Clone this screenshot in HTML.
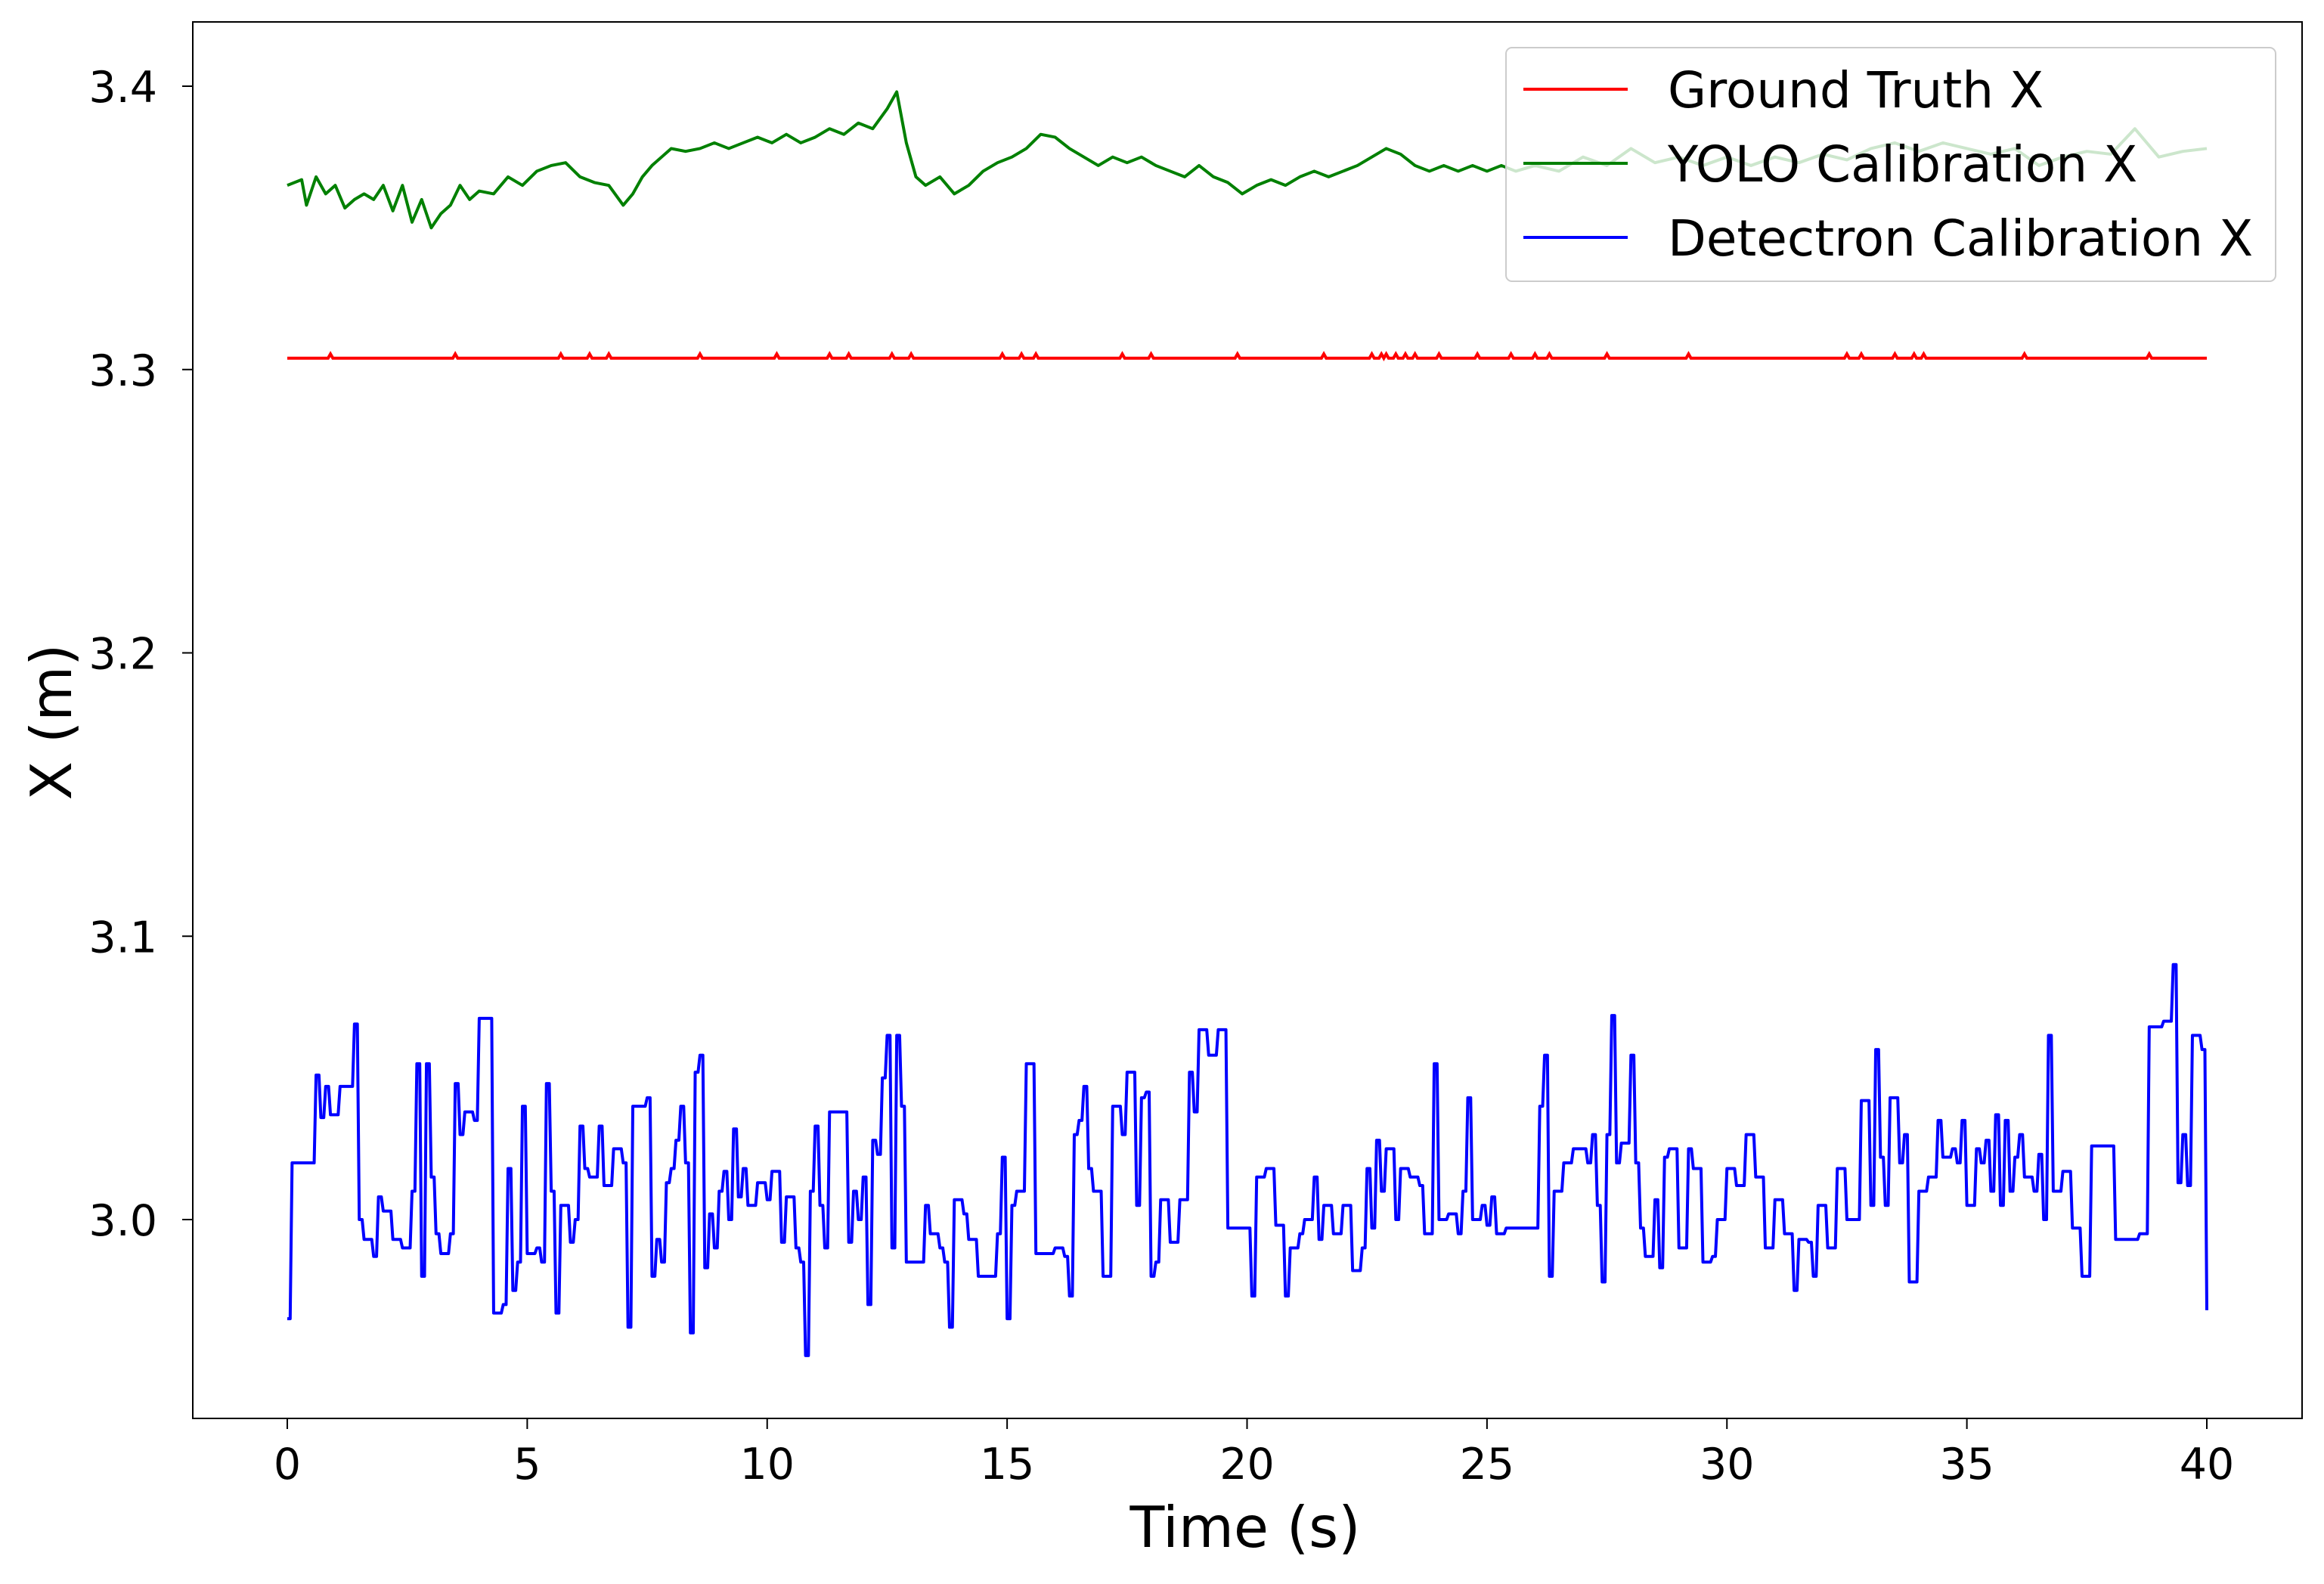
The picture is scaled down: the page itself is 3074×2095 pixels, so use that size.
<!DOCTYPE html>
<html><head><meta charset="utf-8"><style>
html,body{margin:0;padding:0;background:#fff;}
svg text{font-family:"DejaVu Sans","Liberation Sans",sans-serif;fill:#000;}
</style></head><body>
<svg id="chart" width="3074" height="2090" viewBox="0 0 3074 2090" xmlns="http://www.w3.org/2000/svg">
<rect width="3074" height="2090" fill="#fff"/>
<g id="plot"></g>
</svg>
<script>
const xTicks=[0,5,10,15,20,25,30,35,40];
const yTicks=[3.0,3.1,3.2,3.3,3.4];
const gtValue=3.304;
const gtSpikeTimes=[0.9,3.5,5.7,6.3,6.7,8.6,10.2,11.3,11.7,12.6,13.0,14.9,15.3,15.6,17.4,18.0,19.8,21.6,22.6,22.8,22.9,23.1,23.3,23.5,24.0,24.8,25.5,26.0,26.3,27.5,29.2,32.5,32.8,33.5,33.9,34.1,36.2,38.8];
const yoloT=[0,0.3,0.4,0.6,0.8,1.0,1.2,1.4,1.6,1.8,2.0,2.2,2.4,2.6,2.8,3.0,3.2,3.4,3.6,3.8,4.0,4.3,4.6,4.9,5.2,5.5,5.8,6.1,6.4,6.7,7.0,7.2,7.4,7.6,7.8,8.0,8.3,8.6,8.9,9.2,9.5,9.8,10.1,10.4,10.7,11.0,11.3,11.6,11.9,12.2,12.5,12.7,12.9,13.1,13.3,13.6,13.9,14.2,14.5,14.8,15.1,15.4,15.7,16.0,16.3,16.6,16.9,17.2,17.5,17.8,18.1,18.4,18.7,19.0,19.3,19.6,19.9,20.2,20.5,20.8,21.1,21.4,21.7,22.0,22.3,22.6,22.9,23.2,23.5,23.8,24.1,24.4,24.7,25.0,25.3,25.6,26.0,26.5,27.0,27.5,28.0,28.5,29.0,29.5,30.0,30.5,31.0,31.5,32.0,32.5,33.0,33.5,34.0,34.5,35.0,35.5,36.0,36.5,37.0,37.5,38.0,38.5,39.0,39.5,40.0];
const yoloV=[3.365,3.367,3.358,3.368,3.362,3.365,3.357,3.360,3.362,3.360,3.365,3.356,3.365,3.352,3.360,3.350,3.355,3.358,3.365,3.360,3.363,3.362,3.368,3.365,3.370,3.372,3.373,3.368,3.366,3.365,3.358,3.362,3.368,3.372,3.375,3.378,3.377,3.378,3.380,3.378,3.380,3.382,3.380,3.383,3.380,3.382,3.385,3.383,3.387,3.385,3.392,3.398,3.380,3.368,3.365,3.368,3.362,3.365,3.370,3.373,3.375,3.378,3.383,3.382,3.378,3.375,3.372,3.375,3.373,3.375,3.372,3.370,3.368,3.372,3.368,3.366,3.362,3.365,3.367,3.365,3.368,3.370,3.368,3.370,3.372,3.375,3.378,3.376,3.372,3.370,3.372,3.370,3.372,3.370,3.372,3.370,3.372,3.370,3.375,3.372,3.378,3.373,3.375,3.372,3.375,3.372,3.375,3.373,3.376,3.374,3.378,3.380,3.377,3.380,3.378,3.376,3.378,3.372,3.375,3.377,3.376,3.385,3.375,3.377,3.378];
const detT=[0,0.1,0.5,0.6,0.7,0.8,0.9,1.1,1.4,1.5,1.6,1.8,1.9,2.0,2.2,2.4,2.6,2.7,2.8,2.9,3.0,3.1,3.2,3.4,3.5,3.6,3.7,3.9,4.0,4.3,4.5,4.6,4.7,4.8,4.9,5.0,5.2,5.3,5.4,5.5,5.6,5.7,5.9,6.0,6.1,6.2,6.3,6.5,6.6,6.8,7.0,7.1,7.2,7.5,7.6,7.7,7.8,7.9,8.0,8.1,8.2,8.3,8.4,8.5,8.6,8.7,8.8,8.9,9.0,9.1,9.2,9.3,9.4,9.5,9.6,9.8,10.0,10.1,10.3,10.4,10.6,10.7,10.8,10.9,11.0,11.1,11.2,11.3,11.5,11.7,11.8,11.9,12.0,12.1,12.2,12.3,12.4,12.5,12.6,12.7,12.8,12.9,13.1,13.3,13.4,13.6,13.7,13.8,13.9,14.1,14.2,14.4,14.6,14.8,14.9,15.0,15.1,15.2,15.4,15.6,15.8,16.0,16.2,16.3,16.4,16.5,16.6,16.7,16.8,17.0,17.2,17.4,17.5,17.7,17.8,17.9,18.0,18.1,18.2,18.4,18.6,18.8,18.9,19.0,19.2,19.4,19.6,20.0,20.1,20.2,20.4,20.6,20.8,20.9,21.1,21.2,21.4,21.5,21.6,21.8,22.0,22.2,22.4,22.5,22.6,22.7,22.8,22.9,23.1,23.2,23.4,23.6,23.7,23.9,24.0,24.2,24.4,24.5,24.6,24.7,24.9,25.0,25.1,25.2,25.4,26.0,26.1,26.2,26.3,26.4,26.6,26.8,27.0,27.1,27.2,27.3,27.4,27.5,27.6,27.7,27.8,28.0,28.1,28.2,28.3,28.5,28.6,28.7,28.8,29.0,29.2,29.3,29.5,29.7,29.8,30.0,30.2,30.4,30.6,30.8,31.0,31.2,31.4,31.5,31.7,31.8,31.9,32.1,32.3,32.5,32.8,33.0,33.1,33.2,33.3,33.4,33.6,33.7,33.8,34.0,34.2,34.4,34.5,34.7,34.8,34.9,35.0,35.2,35.3,35.4,35.5,35.6,35.7,35.8,35.9,36.0,36.1,36.2,36.4,36.5,36.6,36.7,36.8,37.0,37.2,37.4,37.6,38.0,38.1,38.6,38.8,39.1,39.3,39.4,39.5,39.6,39.7,39.9,40.0];
const detV=[2.965,3.020,3.020,3.051,3.036,3.047,3.037,3.047,3.069,3.000,2.993,2.987,3.008,3.003,2.993,2.990,3.010,3.055,2.980,3.055,3.015,2.995,2.988,2.995,3.048,3.030,3.038,3.035,3.071,2.967,2.970,3.018,2.975,2.985,3.040,2.988,2.990,2.985,3.048,3.010,2.967,3.005,2.992,3.000,3.033,3.018,3.015,3.033,3.012,3.025,3.020,2.962,3.040,3.043,2.980,2.993,2.985,3.013,3.018,3.028,3.040,3.020,2.960,3.052,3.058,2.983,3.002,2.990,3.010,3.017,3.000,3.032,3.008,3.018,3.005,3.013,3.007,3.017,2.992,3.008,2.990,2.985,2.952,3.010,3.033,3.005,2.990,3.038,3.038,2.992,3.010,3.000,3.015,2.970,3.028,3.023,3.050,3.065,2.990,3.065,3.040,2.985,2.985,3.005,2.995,2.990,2.985,2.962,3.007,3.002,2.993,2.980,2.980,2.995,3.022,2.965,3.005,3.010,3.055,2.988,2.988,2.990,2.987,2.973,3.030,3.035,3.047,3.018,3.010,2.980,3.040,3.030,3.052,3.005,3.043,3.045,2.980,2.985,3.007,2.992,3.007,3.052,3.038,3.067,3.058,3.067,2.997,2.997,2.973,3.015,3.018,2.998,2.973,2.990,2.995,3.000,3.015,2.993,3.005,2.995,3.005,2.982,2.990,3.018,2.997,3.028,3.010,3.025,3.000,3.018,3.015,3.012,2.995,3.055,3.000,3.002,2.995,3.010,3.043,3.000,3.005,2.998,3.008,2.995,2.997,2.997,3.040,3.058,2.980,3.010,3.020,3.025,3.025,3.020,3.030,3.005,2.978,3.030,3.072,3.020,3.027,3.058,3.020,2.997,2.987,3.007,2.983,3.022,3.025,2.990,3.025,3.018,2.985,2.987,3.000,3.018,3.012,3.030,3.015,2.990,3.007,2.995,2.975,2.993,2.992,2.980,3.005,2.990,3.018,3.000,3.042,3.005,3.060,3.022,3.005,3.043,3.020,3.030,2.978,3.010,3.015,3.035,3.022,3.025,3.020,3.035,3.005,3.025,3.020,3.028,3.010,3.037,3.005,3.035,3.010,3.022,3.030,3.015,3.010,3.023,3.000,3.065,3.010,3.017,2.997,2.980,3.026,3.026,2.993,2.995,3.068,3.070,3.090,3.013,3.030,3.012,3.065,3.060,2.968];

const NS='http://www.w3.org/2000/svg';
const g=document.getElementById('plot');
const X=t=>380+t*(2919-380)/40;
const Y=v=>1613-(v-3.0)*(1613-114)/0.4;
function mk(tag,attrs,parent){const e=document.createElementNS(NS,tag);for(const k in attrs)e.setAttribute(k,attrs[k]);(parent||g).appendChild(e);return e;}

let gd='M'+X(0)+' '+Y(gtValue);
gtSpikeTimes.forEach(t=>{gd+=' L'+X(t-0.05)+' '+Y(gtValue)+' L'+X(t)+' '+Y(gtValue+0.0015)+' L'+X(t+0.05)+' '+Y(gtValue);});
gd+=' L'+X(40)+' '+Y(gtValue);
const gt=mk('path',{d:gd,fill:'none',stroke:'#ff0000','stroke-width':4});



const yl=mk('path',{d:yoloT.map((t,i)=>(i?'L':'M')+X(t)+' '+Y(yoloV[i])).join(' '),fill:'none',stroke:'#008000','stroke-width':4,'stroke-linejoin':'round'});



let dd='M'+X(detT[0])+' '+Y(detV[0]);
for(let i=1;i<detT.length;i++){
  const xPrev=X(detT[i]-0.04);
  dd+=' L'+xPrev+' '+Y(detV[i-1])+' L'+X(detT[i])+' '+Y(detV[i]);
}
const dl=mk('path',{d:dd,fill:'none',stroke:'#0000ff','stroke-width':4,'stroke-linejoin':'round'});



const fr=mk('rect',{x:255,y:29,width:2790,height:1847,fill:'none',stroke:'#000','stroke-width':2});



xTicks.forEach(t=>{
  const tk=mk('line',{x1:X(t),x2:X(t),y1:1876,y2:1890,stroke:'#000','stroke-width':2});
  
  
  const tx=mk('text',{x:X(t),y:1956,'font-size':57,'text-anchor':'middle'});tx.textContent=t;
  
  
});
yTicks.forEach(v=>{
  const tk=mk('line',{x1:241,x2:255,y1:Y(v),y2:Y(v),stroke:'#000','stroke-width':2});
  
  
  const tx=mk('text',{x:208,y:Y(v)+21,'font-size':57,'text-anchor':'end'});tx.textContent=v.toFixed(1);
  
  
});
const xt=mk('text',{x:1647,y:2046,'font-size':75,'text-anchor':'middle'});xt.textContent='Time (s)';


const yt=mk('text',{x:0,y:0,'font-size':75,'text-anchor':'middle',transform:'translate(94,955) rotate(-90)'});yt.textContent='X (m)';



const lg=mk('g',{});


mk('rect',{x:1992,y:63,width:1018,height:309,rx:8,fill:'#fff','fill-opacity':0.8,stroke:'#cccccc','stroke-width':2},lg);
const entries=[['Ground Truth X','#ff0000'],['YOLO Calibration X','#008000'],['Detectron Calibration X','#0000ff']];
entries.forEach((e,i)=>{
  const yy=118+i*98;
  const ent=mk('g',{},lg);
  
  
  mk('line',{x1:2015,x2:2153,y1:yy,y2:yy,stroke:e[1],'stroke-width':4},ent);
  const t=mk('text',{x:2206,y:yy+24,'font-size':66},ent);t.textContent=e[0];
});
</script>
</body></html>
